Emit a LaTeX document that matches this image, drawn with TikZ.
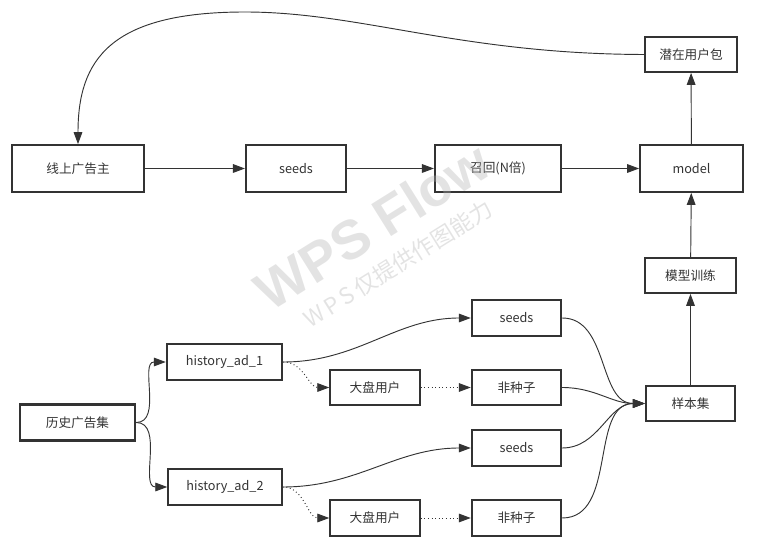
\documentclass[tikz,border=0pt]{standalone}
\usepackage{fontspec}
\setmainfont{Noto Sans CJK SC}
\newfontfamily\wmfont{Liberation Sans}
\newfontfamily\wmcjk{Noto Sans CJK SC}
\usetikzlibrary{arrows.meta}
\definecolor{ink}{HTML}{333333}
\definecolor{wm}{HTML}{B0B0B0}
\tikzset{
  box/.style={draw=ink, line width=1.6pt, fill=white, text=ink, inner sep=0pt,
    font=\fontsize{9.5}{11}\selectfont},
  conn/.style={draw=ink, line width=0.7pt, -{Triangle[length=9pt,width=6.5pt]}},
  dconn/.style={conn, dotted},
  wmark/.style={rotate=32, text=wm, text opacity=0.35},
}
\begin{document}
\begin{tikzpicture}[x=0.75pt,y=-0.75pt]
\useasboundingbox (0,0) rectangle (758,545);
% top row
\node[box, minimum width=99pt, minimum height=35pt] (adv) at (78,168.5) {线上广告主};
\node[box, minimum width=75pt, minimum height=35pt] (seedT) at (296,168.5) {seeds};
\node[box, minimum width=94.5pt, minimum height=35pt] (recall) at (498,168.5) {召回(N倍)};
\node[box, minimum width=77pt, minimum height=35pt] (model) at (691.5,168.5) {model};
\node[box, minimum width=69pt, minimum height=26pt] (pkg) at (691,54.5) {潜在用户包};
\node[box, minimum width=68pt, minimum height=26pt] (train) at (690.5,275.5) {模型训练};
\node[box, minimum width=67pt, minimum height=26.5pt] (sample) at (690.5,403.5) {样本集};
% bottom
\node[box, minimum width=86.5pt, minimum height=27pt] (hist) at (77.5,422.5) {历史广告集};
\node[box, minimum width=86.5pt, minimum height=27pt] (h1) at (224.5,362) {history\_ad\_1};
\node[box, minimum width=85pt, minimum height=27pt] (h2) at (225,487) {history\_ad\_2};
\node[box, minimum width=67pt, minimum height=26.5pt] (dp1) at (375,387.5) {大盘用户};
\node[box, minimum width=67pt, minimum height=26.5pt] (dp2) at (375,518) {大盘用户};
\node[box, minimum width=67pt, minimum height=26.5pt] (s1) at (516.5,318) {seeds};
\node[box, minimum width=67pt, minimum height=26.5pt] (n1) at (516.5,387.5) {非种子};
\node[box, minimum width=67pt, minimum height=26.5pt] (s2) at (516.5,448) {seeds};
\node[box, minimum width=67pt, minimum height=26.5pt] (n2) at (516.5,518) {非种子};
% connectors top
\draw[conn] (adv) -- (seedT);
\draw[conn] (seedT) -- (recall);
\draw[conn] (recall) -- (model);
\draw[conn] (model) -- (pkg);
\draw[conn] (sample) -- (train);
\draw[conn] (train) -- (model);
\draw[conn] (pkg.west) .. controls (460,54) and (360,12) .. (245,12)
   .. controls (110,12) and (78,60) .. (adv.north);
% connectors bottom
\draw[conn] (hist.east) to[out=0,in=180] (h1.west);
\draw[conn] (hist.east) to[out=0,in=180] (h2.west);
\draw[conn] (h1.east) to[out=0,in=180] (s1.west);
\draw[conn] (h2.east) to[out=0,in=180] (s2.west);
\draw[dconn] (h1.east) to[out=0,in=180] (dp1.west);
\draw[dconn] (h2.east) to[out=0,in=180] (dp2.west);
\draw[dconn] (dp1) -- (n1);
\draw[dconn] (dp2) -- (n2);
\draw[conn] (s1.east) to[out=0,in=180] (sample.west);
\draw[conn] (n1.east) to[out=0,in=180] (sample.west);
\draw[conn] (s2.east) to[out=0,in=180] (sample.west);
\draw[conn] (n2.east) to[out=0,in=180] (sample.west);
% watermark on top
\node[wmark, font=\wmfont\bfseries\fontsize{41}{41}\selectfont] (wm1) at (372,226) {WPS Flow};
\node[wmark, font=\wmcjk\fontsize{17}{17}\selectfont] (wm2) at (398,264) {W\,P\,S\,仅提供作图能力};
\end{tikzpicture}
\end{document}
